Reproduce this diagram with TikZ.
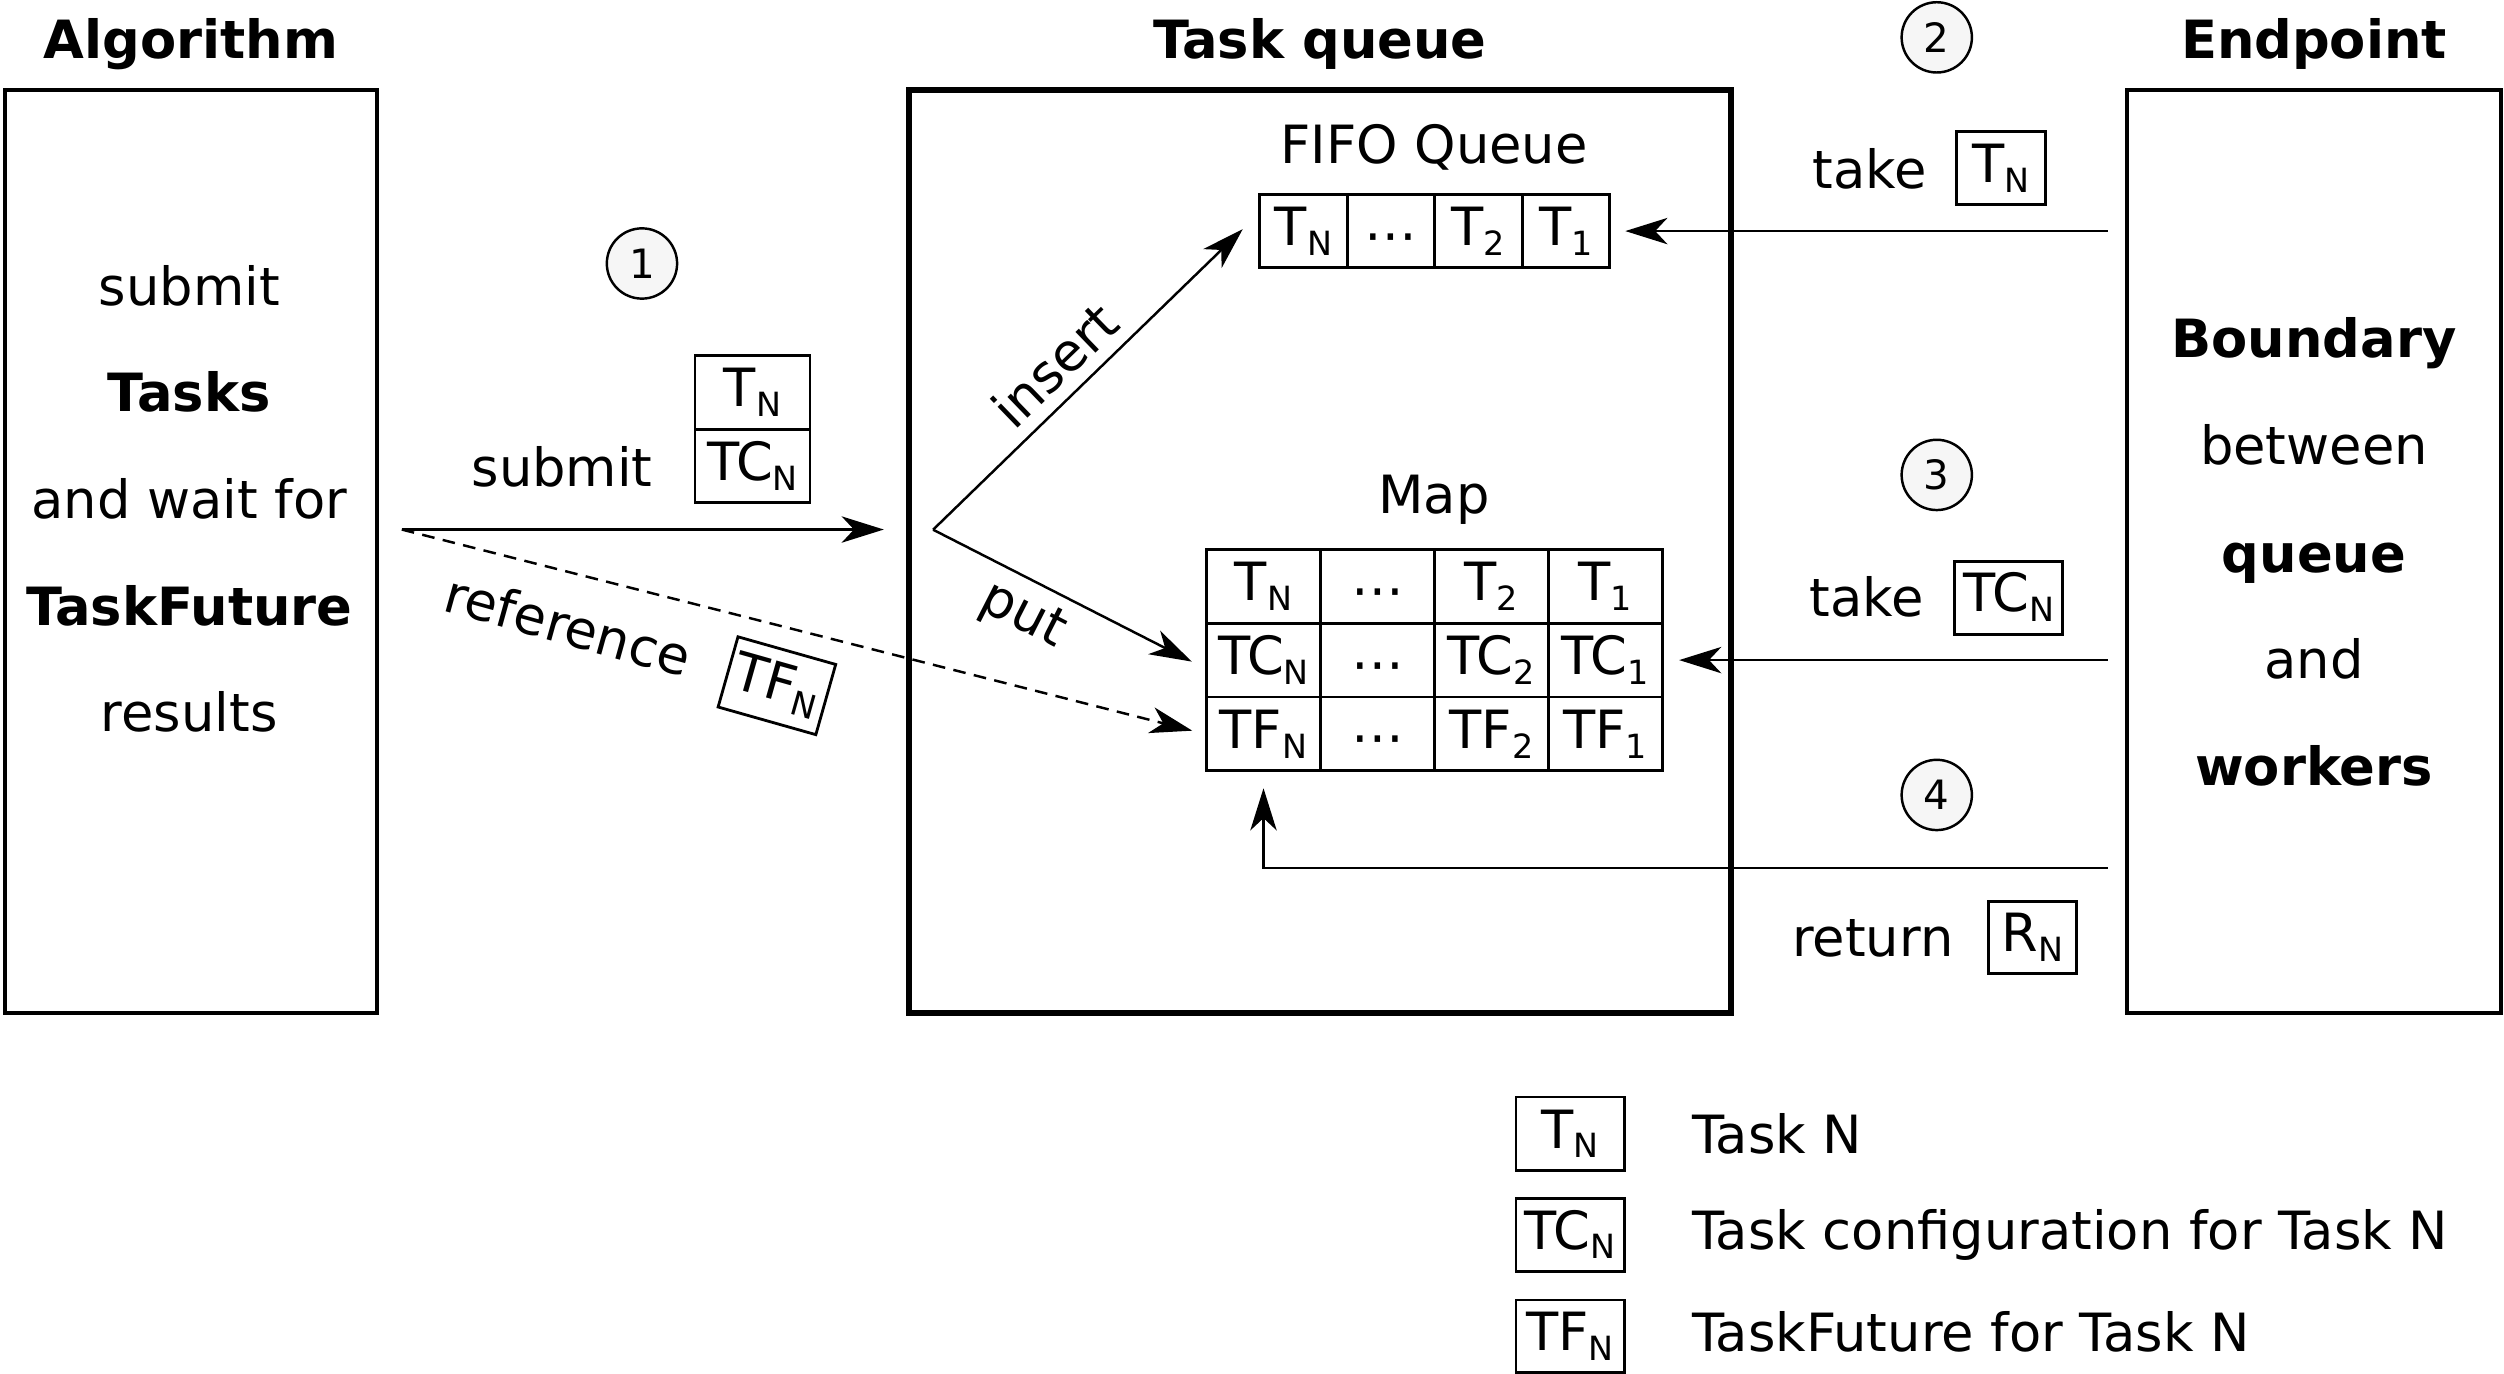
\documentclass[tikz,border=0pt]{standalone}
\usepackage{fontspec}
\setmainfont{DejaVu Sans}
\usetikzlibrary{arrows.meta}
\definecolor{numfill}{RGB}{246,246,246}
\newcommand{\mysub}[1]{\raisebox{-2.8pt}{\fontsize{9.5}{10}\selectfont #1}}
\newcommand{\mydots}{\raisebox{-2.2pt}{⋯}}
\begin{document}
\begin{tikzpicture}[x=0.0159694cm, y=-0.0159694cm,
  every node/.style={font=\fontsize{15}{18}\selectfont},
  lbl/.style={anchor=base, inner sep=0},
  ttl/.style={anchor=base, inner sep=0, font=\fontsize{15}{18}\selectfont\bfseries},
  bld/.style={anchor=base, inner sep=0, font=\fontsize{15}{18}\selectfont\bfseries},
  outer/.style={draw, line width=1.1pt, inner sep=0},
  cellbox/.style={draw, line width=0.8pt, inner sep=0, text height=10.9pt, text depth=2.8pt},
  fcell/.style={cellbox, minimum width=0.8743cm, minimum height=0.725cm},
  mcell/.style={cellbox, minimum width=1.1394cm, minimum height=0.7383cm},
  num/.style={circle, draw, line width=0.7pt, fill=numfill, minimum size=0.703cm, inner sep=0, font=\fontsize{11.5}{13}\selectfont},
  arr/.style={-{Stealth[length=12pt,width=7.5pt,inset=3.5pt]}, line width=0.7pt},
]
\useasboundingbox (0,0) rectangle (1568,860.4);

% titles
\node[ttl] (tAlg) at (119.5,36.7) {Algorithm};
\node[ttl] (tTQ) at (826.5,36.7) {Task queue};
\node[ttl] (tEP) at (1449,36.7) {Endpoint};

% main boxes
\node[outer, minimum width=3.724cm, minimum height=9.233cm] (alg) at (119.5,345.5) {};
\node[outer, line width=1.8pt, minimum width=8.224cm, minimum height=9.233cm] (tq) at (826.5,345.5) {};
\node[outer, minimum width=3.737cm, minimum height=9.233cm] (ep) at (1449,345.5) {};

% algorithm text
\node[lbl] (a1) at (118.5,191.4) {submit};
\node[bld] (a2) at (118.5,257.8) {Tasks};
\node[lbl] (a3) at (118.5,324.6) {and wait for};
\node[bld] (a4) at (118.5,391.8) {TaskFuture};
\node[lbl] (a5) at (118.5,458.2) {results};

% endpoint text
\node[bld] (e1t) at (1449,224) {Boundary};
\node[lbl] (e2t) at (1449,291) {between};
\node[bld] (e3t) at (1449,358.4) {queue};
\node[lbl] (e4t) at (1449,424.8) {and};
\node[bld] (e5t) at (1449,492) {workers};

% numbers
\node[num] (n1) at (402,165) {1};
\node[num] (n2) at (1212.8,23.4) {2};
\node[num] (n3) at (1212.8,297.4) {3};
\node[num] (n4) at (1212.8,497.8) {4};

% FIFO queue
\node[lbl] (fifoT) at (898,102.7) {FIFO Queue};
\node[fcell] (f1) at (816.25,144.7) {T\mysub{N}};
\node[fcell] (f2) at (871.0,144.7) {\mydots};
\node[fcell] (f3) at (925.75,144.7) {T\mysub{2}};
\node[fcell] (f4) at (980.5,144.7) {T\mysub{1}};

% Map
\node[lbl] (mapT) at (898,321.7) {Map};
\node[mcell] (m11) at (791.2,367.1) {T\mysub{N}};
\node[mcell] (m12) at (862.55,367.1) {\mydots};
\node[mcell] (m13) at (933.9,367.1) {T\mysub{2}};
\node[mcell] (m14) at (1005.25,367.1) {T\mysub{1}};
\node[mcell] (m21) at (791.2,413.35) {TC\mysub{N}};
\node[mcell] (m22) at (862.55,413.35) {\mydots};
\node[mcell] (m23) at (933.9,413.35) {TC\mysub{2}};
\node[mcell] (m24) at (1005.25,413.35) {TC\mysub{1}};
\node[mcell] (m31) at (791.2,459.6) {TF\mysub{N}};
\node[mcell] (m32) at (862.55,459.6) {\mydots};
\node[mcell] (m33) at (933.9,459.6) {TF\mysub{2}};
\node[mcell] (m34) at (1005.25,459.6) {TF\mysub{1}};

% submit
\node[lbl] (subL) at (352,304.7) {submit};
\node[cellbox, minimum width=1.15cm, minimum height=0.735cm] (sb1) at (471.2,245.8) {T\mysub{N}};
\node[cellbox, minimum width=1.15cm, minimum height=0.735cm] (sb2) at (471.2,291.85) {TC\mysub{N}};
\node[rotate=-15.5, inner sep=0] (refL) at (355.9,391.4) {reference};
\node[cellbox, rotate=-15.8, minimum width=1.016cm, minimum height=0.73cm] (tfr) at (486.5,429.4) {TF\mysub{N}};

\coordinate (sstart) at (251.6,331.6);
\coordinate (br) at (584.3,331.7);
\coordinate (insEnd) at (778.2,143.5);
\coordinate (putEnd) at (746.3,414.3);

\draw[arr, shorten >=0.219cm] (sstart) -- (sstart -| tq.west);
\draw[arr, dash pattern=on 3.6pt off 2.4pt, shorten >=0.133cm] (sstart) -- (m31.west);
\draw[arr] (br) -- (insEnd);
\node[rotate=44, inner sep=0] (insL) at (660.5,228.5) {insert};
\draw[arr] (br) -- (putEnd);
\node[rotate=-27, inner sep=0] (putL) at (640.2,386.3) {put};

% right side
\coordinate (r1) at (1320,144.7);
\coordinate (r2) at (1320,413.35);
\coordinate (r3) at (1320,543.4);
\draw[arr, shorten >=0.144cm] (r1) -- (f4.east);
\draw[arr, shorten >=0.155cm] (r2) -- (m24.east);
\draw[arr, shorten >=0.16cm] (r3) -| (m31.south);

\node[lbl] (tk1L) at (1170.7,118.1) {take};
\node[cellbox, minimum width=0.894cm, minimum height=0.735cm] (tk1) at (1253,105.3) {T\mysub{N}};
\node[lbl] (tk2L) at (1168.9,386.2) {take};
\node[cellbox, minimum width=1.078cm, minimum height=0.728cm] (tk2) at (1257.75,374.3) {TC\mysub{N}};
\node[lbl] (rtL) at (1172.8,598.7) {return};
\node[cellbox, minimum width=0.881cm, minimum height=0.723cm] (rt) at (1272.9,587.15) {R\mysub{N}};

% legend
\node[cellbox, minimum width=1.081cm, minimum height=0.735cm] (lg1) at (983.2,710) {T\mysub{N}};
\node[cellbox, minimum width=1.081cm, minimum height=0.735cm] (lg2) at (983.2,773.3) {TC\mysub{N}};
\node[cellbox, minimum width=1.081cm, minimum height=0.723cm] (lg3) at (983.2,836.7) {TF\mysub{N}};
\node[anchor=base west, inner sep=0] (lt1) at (1059.3,722.6) {Task N};
\node[anchor=base west, inner sep=0] (lt2) at (1059.3,782.7) {Task configuration for Task N};
\node[anchor=base west, inner sep=0] (lt3) at (1059.3,846.4) {TaskFuture for Task N};
\end{tikzpicture}
\end{document}
